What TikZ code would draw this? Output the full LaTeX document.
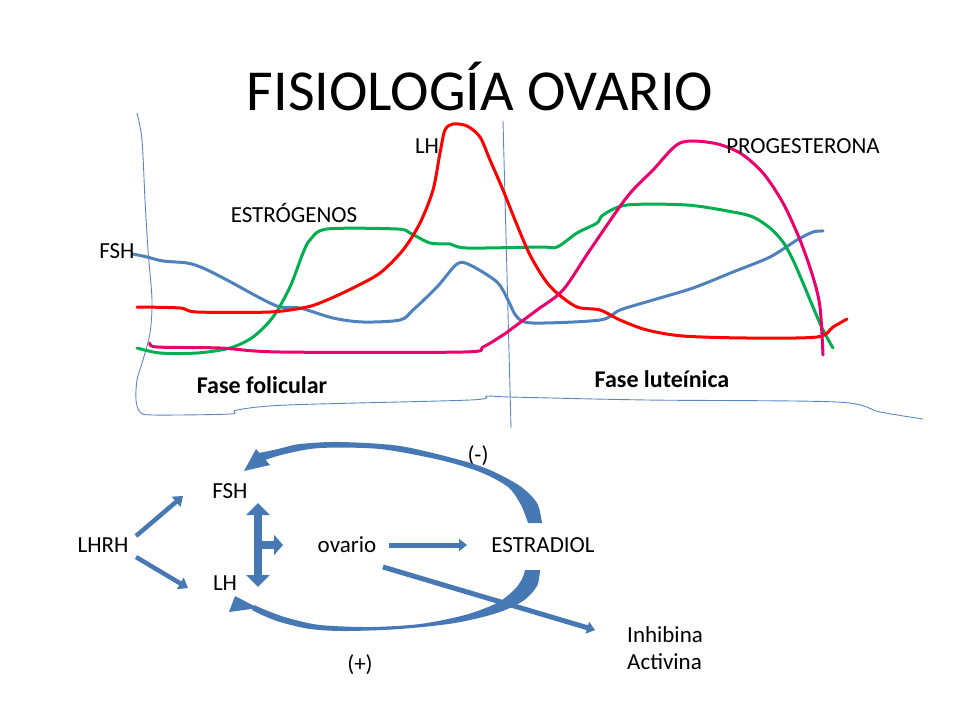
\documentclass[tikz,border=0pt]{standalone}
\usepackage{fontspec}
\setmainfont{Carlito}
\usepackage{tikz}
\usetikzlibrary{arrows.meta}

\definecolor{flecha}{RGB}{70,120,180}
\definecolor{ejeazul}{RGB}{90,135,195}
\definecolor{rojo}{RGB}{255,0,0}
\definecolor{verde}{RGB}{0,176,80}
\definecolor{azul}{RGB}{79,129,189}
\definecolor{rosa}{RGB}{236,0,110}

\begin{document}
\begin{tikzpicture}[x=1pt,y=-1pt,
    etiq/.style={font=\fontsize{23}{27}\selectfont, inner sep=0pt, anchor=base},
    fase/.style={font=\fontsize{24}{28}\selectfont\bfseries, inner sep=0pt, anchor=base},
    curva/.style={line width=3pt, line join=round, line cap=round},
    ejelinea/.style={draw=ejeazul, line width=0.9pt},
    flechita/.style={draw=flecha, line width=4.5pt, -{Triangle[length=9pt,width=13pt]}},
    flechota/.style={draw=flecha, line width=8pt, {Triangle[length=12pt,width=23pt]}-{Triangle[length=12pt,width=23pt]}},
    flechamedia/.style={draw=flecha, line width=5pt, -{Triangle[length=8pt,width=12pt]}}]
                \useasboundingbox (0,0) rectangle (960,720);

                \node[font=\fontsize{58}{64}\selectfont, inner sep=0pt, anchor=base] (titulo) at (480,110) {FISIOLOGÍA OVARIO};

                % ejes de la grafica
                \draw[ejelinea] plot[smooth] coordinates {(137,113) (142,140) (145,200) (148,250) (152,300) (150,333) (143,360) (137,380) (136,400) (140,412) (153,415) (230,414) (237,410) (287,405) (470,400) (487,396) (510,397) (647,400) (837,402) (880,412) (923,419)};
                \draw[ejelinea] (503,121) -- (511,428);

                % curvas hormonales
                \draw[curva, azul] plot[smooth] coordinates {(133,254) (147,257) (163,261) (187,263) (203,268) (227,280) (260,298) (280,307) (300,308) (333,318) (363,322) (400,320) (413,310) (437,287) (457,264) (470,265) (497,282) (508,300) (517,317) (533,323) (600,320) (620,310) (653,300) (693,288) (733,272) (770,257) (797,240) (813,232) (823,231)};
                \draw[curva, verde] plot[smooth] coordinates {(137,348) (160,353) (197,353) (230,348) (253,337) (273,317) (290,287) (303,253) (310,240) (327,229) (397,229) (410,233) (430,243) (450,244) (467,248) (540,247) (557,247) (577,233) (597,223) (603,215) (627,205) (687,205) (733,212) (753,217) (770,228) (783,242) (793,260) (803,283) (813,307) (823,330) (833,348)};
                \draw[curva, rojo] plot[smooth] coordinates {(137,307) (180,308) (197,312) (270,312) (307,307) (327,300) (353,288) (380,273) (403,250) (420,223) (433,190) (440,153) (445,130) (453,124) (467,126) (480,137) (490,160) (503,190) (517,225) (530,255) (545,280) (557,293) (577,307) (600,310) (620,320) (647,330) (683,336) (747,338) (817,337) (833,327) (847,319)};
                \draw[curva, rosa] plot[smooth] coordinates {(150,343) (157,347) (220,348) (280,352) (463,352) (483,347) (503,335) (510,330) (537,310) (563,290) (590,250) (627,197) (653,170) (680,143) (713,143) (740,153) (763,173) (783,203) (800,240) (813,277) (820,307) (823,355)};

                \node[etiq] (gfsh) at (117,258) {FSH};
                \node[etiq] (gestro) at (294,222) {ESTRÓGENOS};
                \node[etiq] (glh) at (427,153) {LH};
                \node[etiq] (gprog) at (803,153) {PROGESTERONA};
                \node[fase] (folic) at (262,393) {Fase folicular};
                \node[fase] (lutei) at (662,387) {Fase luteínica};

                % eje hipotalamo - hipofisis - ovario
                \node[etiq] (lhrh) at (103,552) {LHRH};
                \node[etiq] (fsh) at (230,498) {FSH};
                \node[etiq] (lh) at (225,590) {LH};
                \node[etiq] (ovario) at (347,552) {ovario};
                \node[etiq] (estradiol) at (543,552) {ESTRADIOL};
                \node[etiq] (menos) at (478,462) {(-)};
                \node[etiq] (mas) at (360,671) {(+)};
                \node[etiq, anchor=base west] (inhibina) at (627,642) {Inhibina};
                \node[etiq, anchor=base west] (activina) at (627,669) {Activina};
                \coordinate (cruce) at (258,545);

                \draw[flechita] ([shift={(33,-16)}]lhrh.base) -- ([shift={(-47,-2)}]fsh.base);
                \draw[flechita] ([shift={(33,5)}]lhrh.base) -- ([shift={(-37,-2)}]lh.base);
                \draw[flechota] ([shift={(28,5)}]fsh.base) -- ([shift={(33,-3)}]lh.base);
                \draw[draw=flecha, line width=8pt, -{Triangle[length=9pt,width=20pt]}] (cruce) -- ([shift={(-64,-7)}]ovario.base);
                \draw[flechamedia] ([shift={(42,-7)}]ovario.base) -- ([shift={(-76,-7)}]estradiol.base);
                \draw[flechamedia] ([shift={(36,15)}]ovario.base) -- ([shift={(-32,-12)}]inhibina.base west);

                % retroalimentacion (-)
                \fill[flecha] plot[smooth] coordinates {(542,523) (537,503) (520,486) (490,470) (460,460) (400,446) (340,442) (300,444) (278,449) (259,453)}
                    -- plot[smooth] coordinates {(265,460) (285,454) (320,448) (380,449) (440,460) (480,472) (508,487) (521,505) (528,523)} -- cycle;
                \fill[flecha] (256,449) -- (270,465) -- (244,471) -- cycle;

                % retroalimentacion (+)
                \fill[flecha] plot[smooth] coordinates {(540,570) (537,586) (523,601) (497,613) (455,623) (400,629) (345,631) (310,629) (280,622) (262,615) (252,610)}
                    -- plot[smooth] coordinates {(254,605) (268,611) (288,618) (320,625) (370,627) (420,624) (465,615) (497,603) (514,590) (522,579) (525,570)} -- cycle;
                \fill[flecha] (235,596) -- (229,612) -- (258,608) -- cycle;
            \end{tikzpicture}
\end{document}
